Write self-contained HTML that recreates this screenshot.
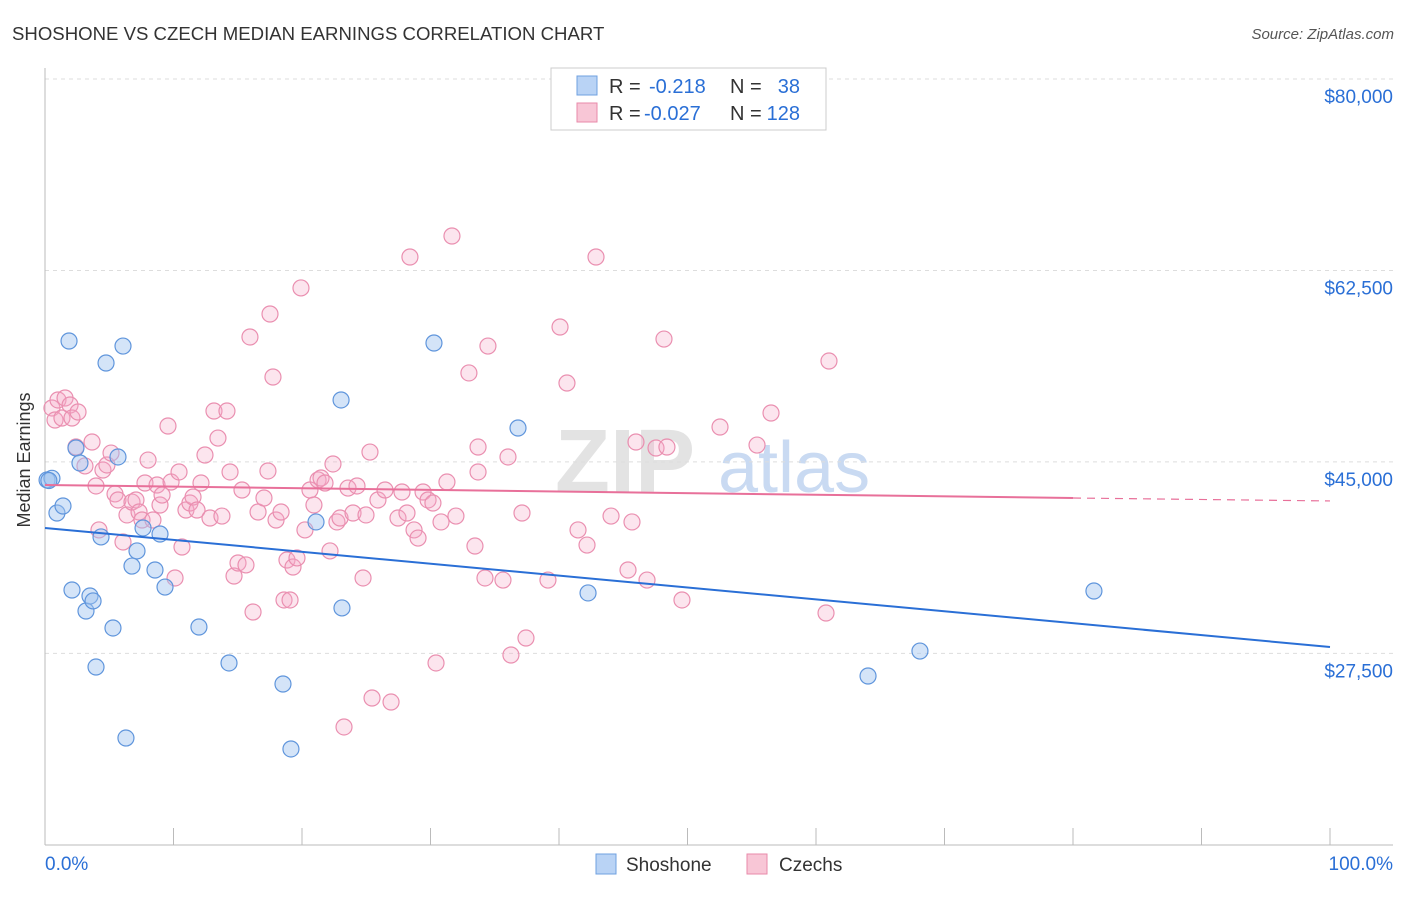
<!DOCTYPE html>
<html><head><meta charset="utf-8">
<style>
body{margin:0;background:#fff;font-family:"Liberation Sans",sans-serif;}
svg text{font-family:"Liberation Sans",sans-serif;}
</style></head>
<body>
<svg id="chart" width="1406" height="892" viewBox="0 0 1406 892" xmlns="http://www.w3.org/2000/svg">
<text x="12" y="40" font-size="18.6" fill="#333">SHOSHONE VS CZECH MEDIAN EARNINGS CORRELATION CHART</text>
<text x="1394" y="39" font-size="15" fill="#555" font-style="italic" text-anchor="end">Source: ZipAtlas.com</text>
<g>
<text x="555" y="492" font-size="90" font-family="Liberation Serif,serif" fill="#e3e3e3" font-weight="bold">ZIP</text>
<text x="718" y="492" font-size="72" fill="#c9daf2">atlas</text>
</g>
<g id="grid"></g>
<g id="axes"></g>
<g id="pinkPts"></g>
<g id="bluePts"></g>
<g id="lines"></g>
<g>
<rect x="551" y="68" width="275" height="62" fill="#fff" stroke="#ccc"/>
<rect x="577" y="76" width="20" height="19" fill="#b9d3f5" stroke="#6fa0e0"/>
<rect x="577" y="103" width="20" height="19" fill="#f8c6d6" stroke="#e88aaa"/>
<text x="609" y="93" font-size="20" fill="#333">R =</text>
<text x="649" y="93" font-size="20" fill="#2a6fd6">-0.218</text>
<text x="730" y="93" font-size="20" fill="#333">N =</text>
<text x="800" y="93" font-size="20" fill="#2a6fd6" text-anchor="end">38</text>
<text x="609" y="120" font-size="20" fill="#333">R =</text>
<text x="644" y="120" font-size="20" fill="#2a6fd6">-0.027</text>
<text x="730" y="120" font-size="20" fill="#333">N =</text>
<text x="800" y="120" font-size="20" fill="#2a6fd6" text-anchor="end">128</text>
</g>
<g>
<rect x="596" y="854" width="20" height="20" fill="#b9d3f5" stroke="#6fa0e0"/>
<text x="626" y="871" font-size="19" fill="#333">Shoshone</text>
<rect x="747" y="854" width="20" height="20" fill="#f8c6d6" stroke="#e88aaa"/>
<text x="779" y="871" font-size="19" fill="#333">Czechs</text>
</g>
<text x="30" y="460" font-size="18" fill="#333" transform="rotate(-90 30 460)" text-anchor="middle">Median Earnings</text>
</svg>
<script>
const yTicks=[80000,62500,45000,27500];
const yTickLabels=["$80,000","$62,500","$45,000","$27,500"];
const xEndLabels=["0.0%","100.0%"];
const blueX=[0.16,0.54,0.93,1.40,1.87,2.41,2.72,2.10,3.19,3.50,3.74,3.97,4.36,4.75,5.29,5.68,6.07,6.30,6.77,7.16,7.63,8.56,8.95,9.34,11.98,14.32,18.52,19.14,21.09,23.04,23.11,30.27,36.81,42.26,64.05,68.09,81.63,0.3];
const blueY=[43.35,43.5,40.33,40.97,56.05,46.27,44.9,33.29,31.37,32.74,32.29,26.25,38.14,54.04,29.82,45.45,55.59,19.76,35.48,36.86,38.96,35.12,38.41,33.56,29.91,26.62,24.7,18.76,39.51,50.66,31.65,55.87,48.1,33.02,25.43,27.71,33.2,43.3];
const pinkX=[0.54,0.78,1.01,1.32,1.56,1.95,2.10,2.57,2.41,3.11,3.66,3.97,4.20,4.51,4.82,5.14,5.45,5.68,6.07,6.38,6.77,7.08,7.32,7.55,7.78,8.02,8.40,8.72,8.95,9.11,9.57,9.81,10.12,10.43,10.66,10.97,11.28,11.52,11.83,12.14,12.45,12.84,13.15,13.46,13.77,14.16,14.40,14.71,15.02,15.33,15.64,15.95,16.19,16.58,17.04,17.35,17.51,17.74,17.98,18.37,18.6,18.83,19.07,19.3,19.61,19.92,20.23,20.62,20.93,21.25,21.48,21.79,22.18,22.41,22.72,22.96,23.27,23.58,23.97,24.28,24.75,24.98,25.29,25.45,25.91,26.46,26.93,27.47,27.78,28.17,28.4,28.72,29.03,29.42,29.81,30.19,30.43,30.82,31.28,31.67,31.98,32.99,33.46,33.7,33.7,34.24,34.47,35.64,36.03,36.26,37.12,37.43,39.14,40.08,40.62,41.48,42.18,42.88,44.05,45.37,45.68,45.99,46.85,47.55,48.17,48.4,49.57,52.53,55.41,56.5,60.78,61.01];
const pinkY=[49.93,48.83,50.66,49.01,50.84,50.2,49.01,49.56,46.36,44.63,46.82,42.8,38.78,44.26,44.72,45.81,42.07,41.52,37.68,40.15,41.33,41.52,40.42,39.69,43.07,45.17,39.69,42.89,41.06,41.97,48.28,43.16,34.39,44.08,37.22,40.6,41.24,41.79,40.6,43.07,45.63,39.87,49.65,47.18,40.05,49.65,44.08,34.57,35.76,42.43,35.58,56.42,31.28,40.42,41.7,44.17,58.52,52.76,39.69,40.42,32.38,36.03,32.38,35.39,36.22,60.9,38.78,42.43,41.06,43.35,43.53,43.07,36.86,44.81,39.51,39.87,20.77,42.61,40.33,42.8,34.39,40.15,45.9,23.42,41.52,42.43,23.05,39.87,42.25,40.33,63.73,38.78,38.04,42.25,41.52,41.24,26.62,39.51,43.16,65.65,40.05,53.13,37.31,46.36,44.08,34.39,55.59,34.2,45.45,27.35,40.33,28.9,34.2,57.33,52.21,38.78,37.4,63.73,40.05,35.12,39.51,46.82,34.2,46.27,56.23,46.36,32.38,48.19,46.54,49.47,31.19,54.22];
const blueTrend=[[0,38.96],[100,28.08]];
const pinkTrend=[[0,42.89],[80,41.7]];
const pinkTrendExt=[[80,41.7],[100,41.43]];
const NS="http://www.w3.org/2000/svg";
const sx=v=>45+v*12.85;
const sy=v=>79+(80-v)*10.94;
function mk(tag,attrs,parent){const e=document.createElementNS(NS,tag);for(const k in attrs)e.setAttribute(k,attrs[k]);parent.appendChild(e);return e;}
const grid=document.getElementById('grid'),axes=document.getElementById('axes');
yTicks.forEach((t,i)=>{
  const y=sy(t/1000);
  const l=mk('line',{x1:45,x2:1393,y1:y,y2:y,stroke:'#ddd','stroke-dasharray':'4,4'},grid);
  
  
  const tx=mk('text',{x:1393,y:y+24,'font-size':19,fill:'#2a6fd6','text-anchor':'end'},axes);
  tx.textContent=yTickLabels[i];
  
  
});
let a=mk('line',{x1:45,x2:45,y1:68,y2:845,stroke:'#bbb'},axes);


a=mk('line',{x1:45,x2:1393,y1:845,y2:845,stroke:'#bbb'},axes);


for(let i=0;i<=10;i++){
  const x=sx(i*10);
  const t=mk('line',{x1:x,x2:x,y1:828,y2:845,stroke:'#bbb'},axes);
  
  
}
let xl=mk('text',{x:45,y:870,'font-size':19,fill:'#2a6fd6'},axes);xl.textContent=xEndLabels[0];


xl=mk('text',{x:1393,y:870,'font-size':19,fill:'#2a6fd6','text-anchor':'end'},axes);xl.textContent=xEndLabels[1];


const pg=document.getElementById('pinkPts');
pinkX.forEach((v,i)=>{
  const c=mk('circle',{cx:sx(v),cy:sy(pinkY[i]),r:8,fill:'rgba(244,170,198,0.3)',stroke:'#ea8fb0','stroke-width':1.2},pg);
  
  
});
const bg=document.getElementById('bluePts');
blueX.forEach((v,i)=>{
  const c=mk('circle',{cx:sx(v),cy:sy(blueY[i]),r:8,fill:'rgba(160,196,240,0.45)',stroke:'#5f95dc','stroke-width':1.2},bg);
  
  
});
const lg=document.getElementById('lines');
let ln=mk('line',{x1:sx(blueTrend[0][0]),y1:sy(blueTrend[0][1]),x2:sx(blueTrend[1][0]),y2:sy(blueTrend[1][1]),stroke:'#2a6fd6','stroke-width':2},lg);


ln=mk('line',{x1:sx(pinkTrend[0][0]),y1:sy(pinkTrend[0][1]),x2:sx(pinkTrend[1][0]),y2:sy(pinkTrend[1][1]),stroke:'#e8709a','stroke-width':2},lg);


ln=mk('line',{x1:sx(pinkTrendExt[0][0]),y1:sy(pinkTrendExt[0][1]),x2:sx(pinkTrendExt[1][0]),y2:sy(pinkTrendExt[1][1]),stroke:'#e8709a','stroke-width':1.2,'stroke-dasharray':'8,6'},lg);


</script>
</body></html>
